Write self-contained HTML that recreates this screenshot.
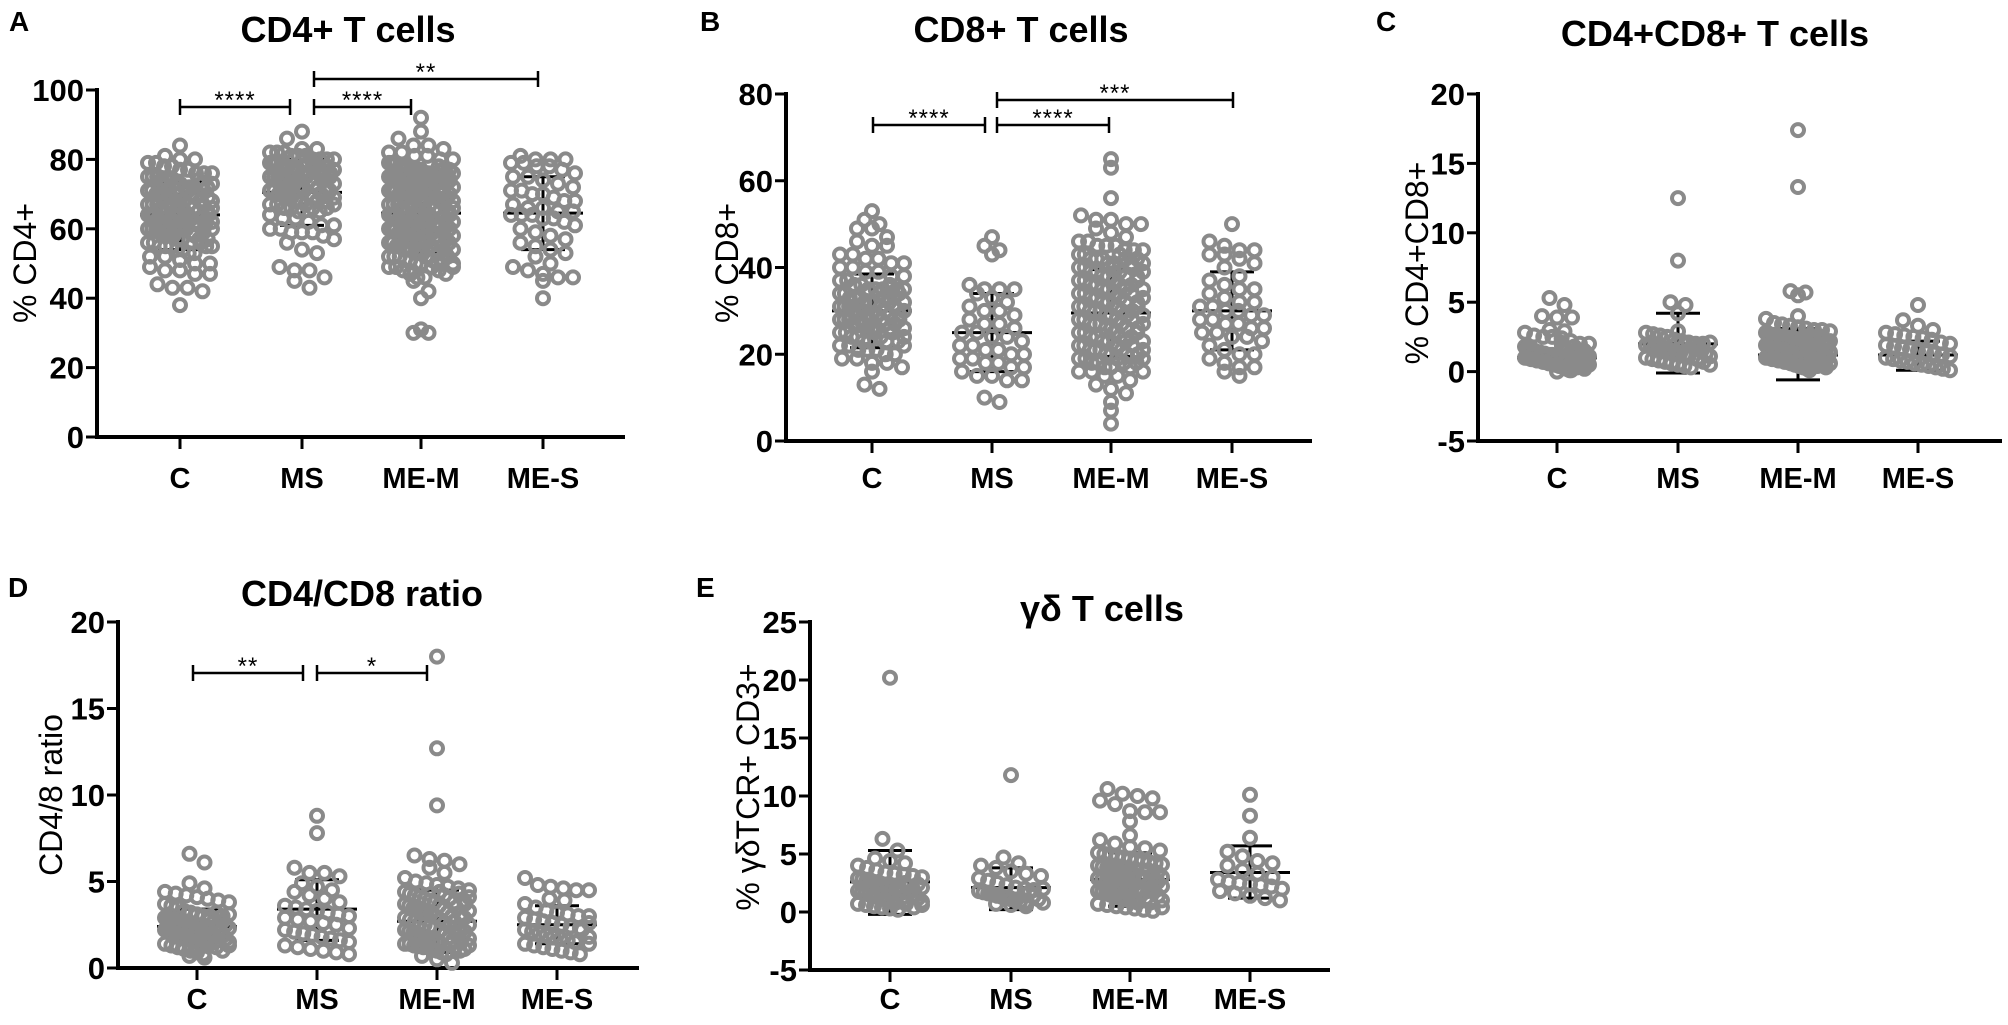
<!DOCTYPE html>
<html><head><meta charset="utf-8">
<style>
html,body{margin:0;padding:0;background:#fff;}
svg{display:block;}
text{font-family:"Liberation Sans",Arial,sans-serif;}
</style></head>
<body>
<svg id="fig" width="2008" height="1025" viewBox="0 0 2008 1025" xmlns="http://www.w3.org/2000/svg"></svg>
<script>
const categories = ['C','MS','ME-M','ME-S'];

// Panel A: % CD4+
const aC = [84,81,80,80,79,79,78,78,77,77,76,76,76,75,75,75,74,74,74,73,73,72,72,72,71,71,70,70,70,69,69,68,68,68,67,67,67,66,66,66,65,65,65,64,64,64,63,63,63,62,62,62,61,61,61,60,60,60,59,59,58,58,57,57,56,56,55,55,55,54,54,53,53,52,52,51,50,50,49,48,48,47,47,44,43,43,42,38,
  74,73,72,71,70,69,68,67,66,65,64,63,62,61,60,59,58,57,56,55,73,71,69,67,65,63,61,59,57,55,68,66,64,62,60];
const aMS = [88,86,83,83,82,82,82,81,81,81,80,80,80,79,79,79,78,78,78,77,77,77,76,76,76,75,75,75,74,74,73,73,72,72,71,71,70,70,69,69,68,68,67,67,66,66,65,64,63,63,62,61,61,60,60,59,59,59,58,57,56,54,53,49,48,48,46,45,43,
  80,79,78,77,76,75,74,73,72,71,70,69,68,67,66,65,78,76,74,72,70,68,66,77,75,73,71,69,67];
const aMEM = [92,88,86,84,84,83,82,82,81,81,80,80,79,79,79,78,78,78,77,77,77,77,76,76,76,76,75,75,75,75,74,74,74,73,73,73,72,72,72,71,71,71,70,70,70,69,69,69,68,68,68,67,67,67,66,66,66,65,65,65,64,64,64,63,63,63,62,62,62,61,61,61,60,60,60,59,59,59,58,58,58,57,57,57,56,56,55,55,54,54,54,53,53,53,52,52,52,51,51,50,50,49,49,48,47,46,46,45,42,40,31,30,30,
  78,77,76,75,74,73,72,71,70,69,68,67,66,65,64,63,62,61,60,59,58,57,56,55,54,53,52,51,50,49,48,47,77,75,73,71,69,67,65,63,61,59,57,55,53,51,49,76,74,72,70,68,66,64,62,60,58,56,54,52,50];
const aMES = [81,80,80,80,79,79,78,78,77,76,75,75,74,73,72,71,71,70,70,69,68,68,67,66,66,65,65,64,64,64,63,63,62,61,60,59,58,57,56,55,54,53,52,50,49,48,47,46,46,45,40];
const aMean = [64,70.5,64.5,64.5];
const aSdHi = [73.5,80,75,75];
const aSdLo = [54,61,53,54];

// Panel B: % CD8+
const bC = [53,51,50,49,49,47,46,45,45,43,43,42,42,41,41,40,40,39,39,38,38,37,37,36,36,35,35,35,34,34,33,33,33,32,32,32,31,31,31,30,30,30,29,29,29,28,28,28,27,27,27,26,26,26,25,25,24,24,23,23,22,22,21,21,21,20,20,19,19,18,18,17,16,13,12,
  36,35,34,33,32,31,30,29,28,27,26,25,24,23,22,35,33,31,29,27,25,23,34,32,30,28,26,24];
const bMS = [47,45,44,43,36,35,35,35,34,33,32,31,30,30,29,28,27,27,26,25,25,24,24,23,22,22,21,21,20,20,19,19,18,18,17,17,16,15,15,14,14,10,9];
const bMEM = [65,63,56,52,51,51,50,50,49,48,47,46,46,45,45,45,44,44,43,43,42,42,42,41,41,40,40,39,39,38,38,37,37,36,36,35,35,34,34,33,33,32,32,31,31,30,30,30,29,29,28,28,27,27,27,26,26,25,25,24,24,23,23,22,22,21,21,21,20,20,19,19,18,18,17,17,16,16,15,15,14,13,12,11,9,7,4,
  44,43,42,41,40,39,38,37,36,35,34,33,32,31,30,29,28,27,26,25,24,23,22,21,20,19,18,17,16,42,40,38,36,34,32,30,28,26,24,22,20,18,41,39,37,35,33,31,29,27,25,23,21,19];
const bMES = [50,46,45,44,44,43,43,42,41,40,38,37,36,35,35,34,33,32,32,31,31,30,30,29,29,28,28,27,27,26,26,25,25,24,24,23,22,21,20,20,19,18,17,17,16,15];
const bMean = [30,25,29.5,30];
const bSdHi = [38.5,34,39.5,39];
const bSdLo = [21.5,16,19.5,21];

// Panel C: % CD4+CD8+
const cC = [5.3,4.8,4,3.9,3.9,3,2.9,2.8,2.6,2.5,2.5,2.4,2.2,2,2,1.8,1.7,1.6,1.5,1.5,1.4,1.4,1.3,1.3,1.2,1.2,1.2,1.1,1.1,1.1,1,1,1,1,0.9,0.9,0.9,0.9,0.8,0.8,0.8,0.8,0.7,0.7,0.7,0.7,0.6,0.6,0.6,0.6,0.5,0.5,0.5,0.4,0.4,0.4,0.3,0.3,0.2,0.2,0.1,0.1,0,
  1.9,1.7,1.5,1.3,1.1,0.9,0.7,0.5,0.3,1.8,1.6,1.4,1.2,1,0.8,0.6,0.4,0.2,1.5,1.3,1.1,0.9,0.7,0.5];
const cMS = [12.5,8,5,4.8,4.2,2.9,2.8,2.7,2.6,2.5,2.3,2.2,2.1,2,2,1.9,1.9,1.8,1.8,1.7,1.6,1.5,1.4,1.3,1.2,1.1,1,0.9,0.8,0.7,0.6,0.5,0.4,0.3,
  2.1,1.9,1.7,1.5,1.3,1.1,0.9,0.7,0.5];
const cMEM = [17.4,13.3,5.8,5.7,5.5,4,3.8,3.5,3.4,3.3,3.2,3.1,3,3,2.9,2.8,2.7,2.6,2.5,2.5,2.4,2.4,2.3,2.3,2.2,2.2,2.1,2.1,2,2,1.9,1.9,1.8,1.8,1.7,1.7,1.6,1.6,1.5,1.5,1.4,1.4,1.3,1.3,1.2,1.2,1.1,1.1,1,1,1,0.9,0.9,0.9,0.8,0.8,0.8,0.7,0.7,0.7,0.6,0.6,0.5,0.5,0.4,0.4,0.3,0.3,0.2,0.1,
  2.6,2.4,2.2,2,1.8,1.6,1.4,1.2,1,0.8,0.6,0.4,2.5,2.3,2.1,1.9,1.7,1.5,1.3,1.1,0.9,0.7,0.5,0.3,2.2,1.8,1.4,1,0.6];
const cMES = [4.8,3.7,3.3,3,2.8,2.7,2.6,2.5,2.4,2.3,2.1,2,1.9,1.8,1.7,1.6,1.5,1.4,1.3,1.2,1.1,1,0.9,0.8,0.7,0.6,0.5,0.4,0.3,0.2,0.1];
const cMean = [1,2,1.2,1.2];
const cSdHi = [1,4.2,3.1,2.2];
const cSdLo = [1,-0.1,-0.6,0.1];

// Panel D: CD4/8 ratio
const dC = [6.6,6.1,4.9,4.6,4.4,4.3,4.2,4.1,4,3.9,3.8,3.7,3.6,3.5,3.3,3.2,3.1,3,3,2.9,2.9,2.8,2.8,2.7,2.7,2.6,2.6,2.5,2.5,2.4,2.4,2.3,2.3,2.2,2.2,2.1,2.1,2,2,1.9,1.9,1.8,1.8,1.7,1.7,1.6,1.6,1.5,1.5,1.4,1.3,1.2,1.1,1,0.9,0.8,0.7,0.6,
  3.2,3,2.8,2.6,2.4,2.2,2,1.8,1.6,1.4,1.2,1,3.1,2.9,2.7,2.5,2.3,2.1,1.9,1.7,1.5,1.3];
const dMS = [8.8,7.8,5.8,5.5,5.5,5.3,4.9,4.7,4.5,4.4,4.2,4,3.8,3.6,3.5,3.4,3.3,3.2,3.1,3,2.9,2.8,2.7,2.6,2.5,2.3,2.2,2.1,2,1.9,1.8,1.7,1.6,1.5,1.3,1.2,1.1,1,0.9,0.8];
const dMEM = [18,12.7,9.4,6.5,6.3,6.2,6,5.8,5.5,5.2,5,4.9,4.8,4.7,4.6,4.5,4.4,4.3,4.2,4.1,4,3.9,3.8,3.7,3.6,3.5,3.4,3.3,3.2,3.1,3,2.9,2.8,2.7,2.6,2.5,2.4,2.3,2.2,2.1,2,1.9,1.8,1.7,1.6,1.5,1.5,1.4,1.4,1.3,1.3,1.2,1.2,1.1,1,0.9,0.8,0.7,0.5,0.3,
  4.4,4.2,4,3.8,3.6,3.4,3.2,3,2.8,2.6,2.4,2.2,2,1.8,1.6,1.4,1.2,1,4.3,3.9,3.5,3.1,2.7,2.3,1.9,1.5,1.1,4.1,3.7,3.3,2.9,2.5,2.1,1.7,1.3];
const dMES = [5.2,4.8,4.7,4.6,4.5,4.5,4,3.9,3.7,3.5,3.3,3.2,3.1,3,2.9,2.8,2.7,2.6,2.5,2.4,2.3,2.2,2.1,2,1.9,1.8,1.7,1.6,1.5,1.4,1.3,1.2,1.1,1,0.9,0.8,
  3,2.6,2.2,1.8,1.4];
const dMean = [2.4,3.4,2.7,2.5];
const dSdHi = [3.4,5.1,4.5,3.6];
const dSdLo = [1.5,1.6,0.9,1.4];

// Panel E: % γδTCR+ CD3+
const eC = [20.2,6.3,5.3,4.6,4.4,4.2,4,3.8,3.6,3.4,3.3,3.2,3.1,3,2.9,2.8,2.7,2.6,2.5,2.4,2.3,2.2,2.1,2,1.9,1.8,1.7,1.6,1.5,1.4,1.3,1.2,1.1,1,0.9,0.8,0.7,0.6,0.5,0.4,0.3,0.2,
  2.5,2.2,1.9,1.6,1.3,1,0.7,0.4,2.4,2.1,1.8,1.5,1.2,0.9,0.6];
const eMS = [11.8,4.7,4.2,4,3.8,3.5,3.3,3.1,2.9,2.7,2.5,2.3,2.1,2,1.9,1.8,1.7,1.6,1.5,1.4,1.3,1.2,1.1,1,0.9,0.8,0.7,0.6,0.5,
  2,1.7,1.4,1.1,0.8];
const eMEM = [10.6,10.2,10,9.8,9.6,9.3,8.7,8.6,8.6,7.8,6.6,6.2,5.9,5.6,5.5,5.3,5.1,5,4.9,4.8,4.7,4.6,4.5,4.4,4.3,4.2,4.1,4,3.9,3.8,3.7,3.6,3.5,3.4,3.3,3.2,3.1,3,2.9,2.8,2.7,2.6,2.5,2.4,2.3,2.2,2.1,2,1.9,1.8,1.7,1.6,1.5,1.4,1.3,1.2,1.1,1,0.9,0.8,0.7,0.6,0.5,0.4,0.3,0.2,0.1,
  3.6,3.2,2.8,2.4,2,1.6,1.2,0.8,0.4,3.4,3,2.6,2.2,1.8,1.4,1];
const eMES = [10.1,8.3,6.4,5.2,4.8,4.4,4.2,4,3.6,3.3,3,2.8,2.6,2.5,2.4,2.3,2.2,2,1.8,1.6,1.4,1.2,1];
const eMean = [2.6,2.1,2.8,3.4];
const eSdHi = [5.3,3.8,5.1,5.7];
const eSdLo = [-0.2,0.2,0.5,1.2];

const ticksA = [0,20,40,60,80,100];
const ticksB = [0,20,40,60,80];
const ticksC = [-5,0,5,10,15,20];
const ticksD = [0,5,10,15,20];
const ticksE = [-5,0,5,10,15,20,25];

const NS = 'http://www.w3.org/2000/svg';
const svg = document.getElementById('fig');
function mk(tag, attrs, parent){
  const el = document.createElementNS(NS, tag);
  for (const k in attrs) el.setAttribute(k, attrs[k]);
  (parent||svg).appendChild(el);
  return el;
}

function panel(cfg){
  const g = mk('g', {});
  
  
  const y = v => cfg.yTop + (cfg.max - v) / (cfg.max - cfg.min) * (cfg.yBot - cfg.yTop);
  const L = mk('text', {x:cfg.letterX, y:cfg.letterY, 'font-size':28, 'font-weight':'bold'}, g);
  L.textContent = cfg.letter;
  
  
  const T = mk('text', {x:cfg.titleX, y:cfg.titleY, 'font-size':36, 'font-weight':'bold', 'text-anchor':'middle'}, g);
  T.textContent = cfg.title;
  
  
  const Y = mk('text', {x:0, y:0, 'font-size':32, 'text-anchor':'middle', transform:`translate(${cfg.ylabX},${cfg.ylabY}) rotate(-90)`}, g);
  Y.textContent = cfg.ylab;
  
  
  const ya = mk('line', {x1:cfg.x0, x2:cfg.x0, y1:y(cfg.max)-2, y2:cfg.yBot+2, stroke:'#000', 'stroke-width':4}, g);
  
  
  const xa = mk('line', {x1:cfg.x0-2, x2:cfg.xEnd, y1:cfg.yBot, y2:cfg.yBot, stroke:'#000', 'stroke-width':4}, g);
  
  
  cfg.ticks.forEach(t => {
    const ty = y(t);
    const tk = mk('line', {x1:cfg.x0-11, x2:cfg.x0, y1:ty, y2:ty, stroke:'#000', 'stroke-width':3}, g);
    
    
    const tl = mk('text', {x:cfg.x0-13, y:ty+11, 'font-size':31, 'font-weight':'bold', 'text-anchor':'end'}, g);
    tl.textContent = String(t);
    
    
  });
  categories.forEach((c, i) => {
    const cx = cfg.cats[i];
    const tk = mk('line', {x1:cx, x2:cx, y1:cfg.yBot, y2:cfg.yBot+12, stroke:'#000', 'stroke-width':3}, g);
    
    
    const tl = mk('text', {x:cx, y:cfg.labY, 'font-size':29, 'font-weight':'bold', 'text-anchor':'middle'}, g);
    tl.textContent = c;
    
    
  });
  categories.forEach((c, i) => {
    const cx = cfg.cats[i];
    const eg = mk('g', {stroke:'#000', 'stroke-width':3}, g);
    
    
    mk('line', {x1:cx-40, x2:cx+40, y1:y(cfg.mean[i]), y2:y(cfg.mean[i])}, eg);
    if (cfg.hi[i] !== cfg.lo[i]) {
      mk('line', {x1:cx, x2:cx, y1:y(cfg.hi[i]), y2:y(cfg.lo[i])}, eg);
      mk('line', {x1:cx-22, x2:cx+22, y1:y(cfg.hi[i]), y2:y(cfg.hi[i])}, eg);
      mk('line', {x1:cx-22, x2:cx+22, y1:y(cfg.lo[i]), y2:y(cfg.lo[i])}, eg);
    }
  });
  const rowH = 13, maxHalf = 32, step = 15;
  cfg.series.forEach((vals, i) => {
    const cx = cfg.cats[i];
    const sg = mk('g', {fill:'none', stroke:'#8a8a8a', 'stroke-width':4}, g);
    
    
    const rows = {};
    vals.forEach(v => { const r = Math.round(y(v) / rowH); (rows[r] = rows[r] || []).push(v); });
    Object.keys(rows).forEach(r => {
      const arr = rows[r]; const k = arr.length;
      const s = k > 1 ? Math.min(step, 2 * maxHalf / (k - 1)) : 0;
      arr.forEach((v, j) => {
        const px = cx + (j - (k - 1) / 2) * s;
        const c = mk('circle', {cx:px.toFixed(1), cy:y(v).toFixed(1), r:6}, sg);
        
        
      });
    });
  });
  (cfg.sig || []).forEach(sb => {
    const bg = mk('g', {stroke:'#000', 'stroke-width':2.5}, g);
    
    
    mk('line', {x1:sb[0], x2:sb[1], y1:sb[2], y2:sb[2]}, bg);
    mk('line', {x1:sb[0], x2:sb[0], y1:sb[2]-8, y2:sb[2]+8}, bg);
    mk('line', {x1:sb[1], x2:sb[1], y1:sb[2]-8, y2:sb[2]+8}, bg);
    const st = mk('text', {x:(sb[0]+sb[1])/2, y:sb[2]+1, 'font-size':24, 'text-anchor':'middle', 'letter-spacing':'1'}, g);
    st.textContent = sb[3];
    
    
  });
}

panel({name:'panel-a-cd4', letter:'A', letterX:9, letterY:31, title:'CD4+ T cells', titleX:348, titleY:42,
  ylab:'% CD4+', ylabX:36, ylabY:263, x0:97, xEnd:625, yTop:90, yBot:437, min:0, max:100, ticks:ticksA,
  cats:[180,302,421,543], labY:488, series:[aC,aMS,aMEM,aMES], mean:aMean, hi:aSdHi, lo:aSdLo,
  sig:[[180,290,107,'****'],[314,411,107,'****'],[314,538,79,'**']]});
panel({name:'panel-b-cd8', letter:'B', letterX:700, letterY:31, title:'CD8+ T cells', titleX:1021, titleY:42,
  ylab:'% CD8+', ylabX:738, ylabY:263, x0:786, xEnd:1312, yTop:94, yBot:441, min:0, max:80, ticks:ticksB,
  cats:[872,992,1111,1232], labY:488, series:[bC,bMS,bMEM,bMES], mean:bMean, hi:bSdHi, lo:bSdLo,
  sig:[[873,985,125,'****'],[997,1109,125,'****'],[997,1233,100,'***']]});
panel({name:'panel-c-cd4cd8', letter:'C', letterX:1376, letterY:31, title:'CD4+CD8+ T cells', titleX:1715, titleY:46,
  ylab:'% CD4+CD8+', ylabX:1428, ylabY:263, x0:1478, xEnd:2002, yTop:94, yBot:441, min:-5, max:20, ticks:ticksC,
  cats:[1557,1678,1798,1918], labY:488, series:[cC,cMS,cMEM,cMES], mean:cMean, hi:cSdHi, lo:cSdLo, sig:[]});
panel({name:'panel-d-ratio', letter:'D', letterX:8, letterY:597, title:'CD4/CD8 ratio', titleX:362, titleY:606,
  ylab:'CD4/8 ratio', ylabX:62, ylabY:795, x0:118, xEnd:639, yTop:622, yBot:968, min:0, max:20, ticks:ticksD,
  cats:[197,317,437,557], labY:1009, series:[dC,dMS,dMEM,dMES], mean:dMean, hi:dSdHi, lo:dSdLo,
  sig:[[193,303,673,'**'],[317,427,673,'*']]});
panel({name:'panel-e-gd', letter:'E', letterX:696, letterY:597, title:'γδ T cells', titleX:1102, titleY:621,
  ylab:'%  γδTCR+ CD3+', ylabX:759, ylabY:787, x0:810, xEnd:1330, yTop:622, yBot:970, min:-5, max:25, ticks:ticksE,
  cats:[890,1011,1130,1250], labY:1009, series:[eC,eMS,eMEM,eMES], mean:eMean, hi:eSdHi, lo:eSdLo, sig:[]});
</script>
</body></html>
